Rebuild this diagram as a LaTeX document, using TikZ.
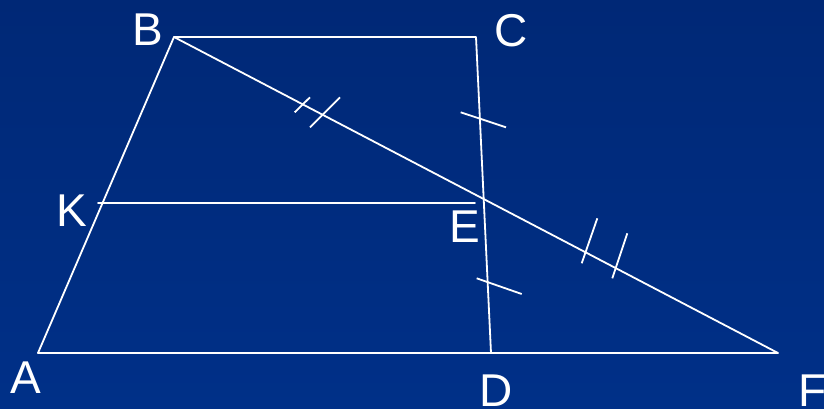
\documentclass[tikz,border=0pt]{standalone}
\usepackage{fontspec}
\setmainfont{Liberation Sans}
\definecolor{bgtop}{RGB}{0,40,118}
\definecolor{bgbot}{RGB}{0,48,136}
\begin{document}
\begin{tikzpicture}[x=1pt,y=-1pt,
  seg/.style={draw=white,line width=1.8pt,line cap=round,line join=round},
  tick/.style={draw=white,line width=1.8pt},
  lbl/.style={text=white,inner sep=0pt,anchor=base,font=\fontsize{46}{46}\selectfont}]
\useasboundingbox (0,0) rectangle (824,408);
\clip (0,0) rectangle (824,408);
\shade[top color=bgtop,bottom color=bgbot] (0,0) rectangle (824,408);
% points
\coordinate (A) at (38,353);
\coordinate (B) at (174,37);
\coordinate (C) at (476,37);
\coordinate (D) at (491,353);
\coordinate (F) at (778,353);
\coordinate (E) at (483.7,199);
\coordinate (K) at (98,203);
\coordinate (Ke) at (475,203);
% figure
\draw[seg] (A) -- (B) -- (C) -- (D);
\draw[seg] (A) -- (F) -- (B);
\draw[seg] (K) -- (Ke);
% tick marks
\draw[tick] (294.7,112.3) -- (310,97.3);
\draw[tick] (310,127.3) -- (340,97.3);
\draw[tick] (460.7,112.3) -- (506,127.3);
\draw[tick] (581.7,263.3) -- (597.3,218.3);
\draw[tick] (612.3,278.3) -- (627.3,233.3);
\draw[tick] (476.7,278.3) -- (521.7,294);
% labels
\node[lbl] (lA) at (26,393) {A};
\node[lbl] (lB) at (147.5,45) {B};
\node[lbl] (lC) at (511.5,46) {C};
\node[lbl] (lD) at (496,406) {D};
\node[lbl] (lE) at (464.5,242) {E};
\node[lbl] (lF) at (813,406) {F};
\node[lbl] (lK) at (71.5,226) {K};
\end{tikzpicture}
\end{document}
